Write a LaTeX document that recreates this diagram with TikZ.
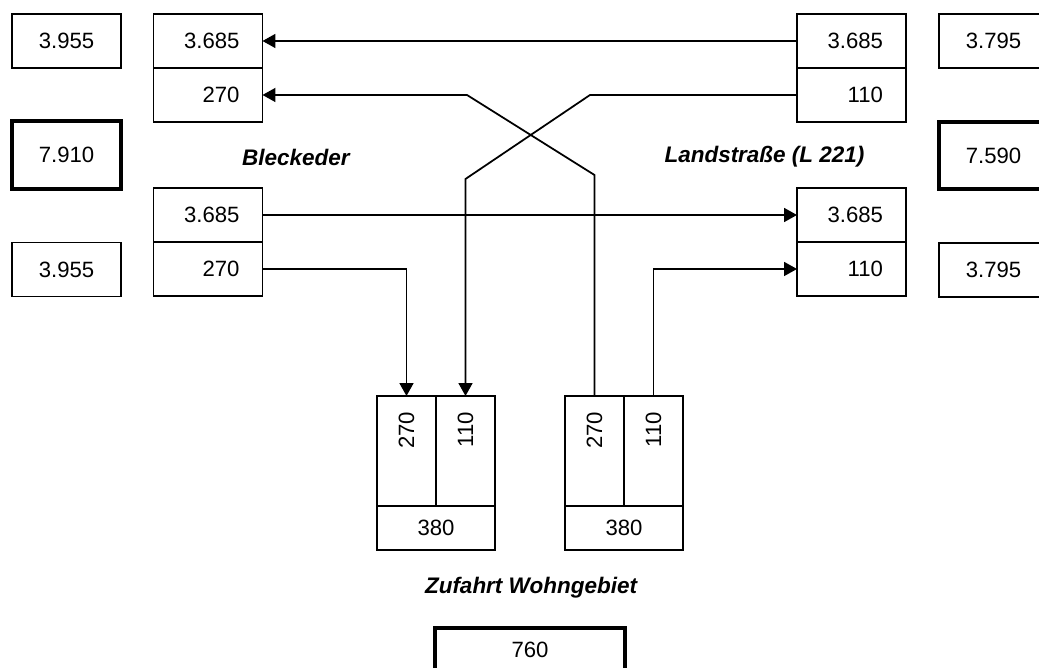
\documentclass[tikz,border=0pt]{standalone}
\usepackage{fontspec}
\setmainfont{Liberation Sans}
\usepackage{tikz}
\usetikzlibrary{arrows.meta,positioning}
\newcommand{\numfont}{\fontsize{12.6}{15}\selectfont}
\newcommand{\roadfont}{\fontsize{12.8}{15}\selectfont\bfseries\itshape}

\begin{document}
\begin{tikzpicture}[x=0.02cm,y=-0.02cm,
  cell/.style={draw,line width=1pt,inner sep=0pt,outer sep=0pt,
    minimum width=2.18cm,minimum height=1.08cm,font=\numfont},
  sumbox/.style={cell,line width=2.5pt},
  flowbox/.style={cell,text width=1.26cm,align=right,inner xsep=0.46cm},
  lanebox/.style={cell,rotate=90,minimum width=2.2cm,minimum height=1.18cm,
    text width=1.56cm,align=right,inner xsep=0.32cm},
  road/.style={font=\roadfont},
  arr/.style={line width=1pt,-{Triangle[length=2.6mm,width=2.8mm]}}]
  \useasboundingbox (0,0) rectangle (1039,668);
  % totals on both sides
  \node[cell]   (lo1)  at (66.5,41)    {3.955};
  \node[sumbox,minimum height=1.36cm] (lsum) at (66.5,155) {7.910};
  \node[cell]   (lo2)  at (66.5,269.5) {3.955};
  \node[cell]   (ro1)  at (993.5,41)    {3.795};
  \node[sumbox,minimum height=1.34cm] (rsum) at (993.5,155.5) {7.590};
  \node[cell]   (ro2)  at (993.5,270)   {3.795};
  % Bleckeder side
  \node[flowbox] (la) at (208,41) {3.685};
  \node[flowbox,below=0pt of la] (lb) {270};
  \node[flowbox] (lc) at (208,215) {3.685};
  \node[flowbox,below=0pt of lc] (ld) {270};
  % Landstrasse side
  \node[flowbox] (ra) at (851.5,41) {3.685};
  \node[flowbox,below=0pt of ra] (rb) {110};
  \node[flowbox] (rc) at (851.5,215) {3.685};
  \node[flowbox,below=0pt of rc] (rd) {110};
  % Zufahrt Wohngebiet (rotated cells: .east is the top side)
  \node[lanebox] (ea) at (406.5,451) {270};
  \node[lanebox] (eb) at (465.5,451) {110};
  \node[cell,minimum width=2.36cm,minimum height=0.88cm] (esum) at (436,528) {380};
  \node[lanebox] (fa) at (594.5,451) {270};
  \node[lanebox] (fb) at (653.5,451) {110};
  \node[cell,minimum width=2.36cm,minimum height=0.88cm] (fsum) at (624,528) {380};
  \node[sumbox,minimum width=3.8cm,minimum height=0.88cm] (total) at (530,650) {760};
  % street names
  \node[road] (bleck) at (296,157)   {Bleckeder};
  \node[road] (land)  at (764.5,157) {Landstraße (L 221)};
  \node[road] (zuf)   at (531,588)   {Zufahrt Wohngebiet};
  % flows
  \coordinate (xl) at (467,0);
  \coordinate (xr) at (590,0);
  \draw[arr] (ra.west) -- (la.east);
  \draw[arr] (fa.east) -- ++(0,-221) -- (lb.east -| xl) -- (lb.east);
  \draw[arr] (rb.west) -- (rb.west -| xr) -- ++(-124.5,84) -- (eb.east);
  \draw[arr] (lc.east) -- (rc.west);
  \draw[arr] (ld.east) -| (ea.east);
  \draw[arr] (fb.east) |- (rd.west);
\end{tikzpicture}
\end{document}
